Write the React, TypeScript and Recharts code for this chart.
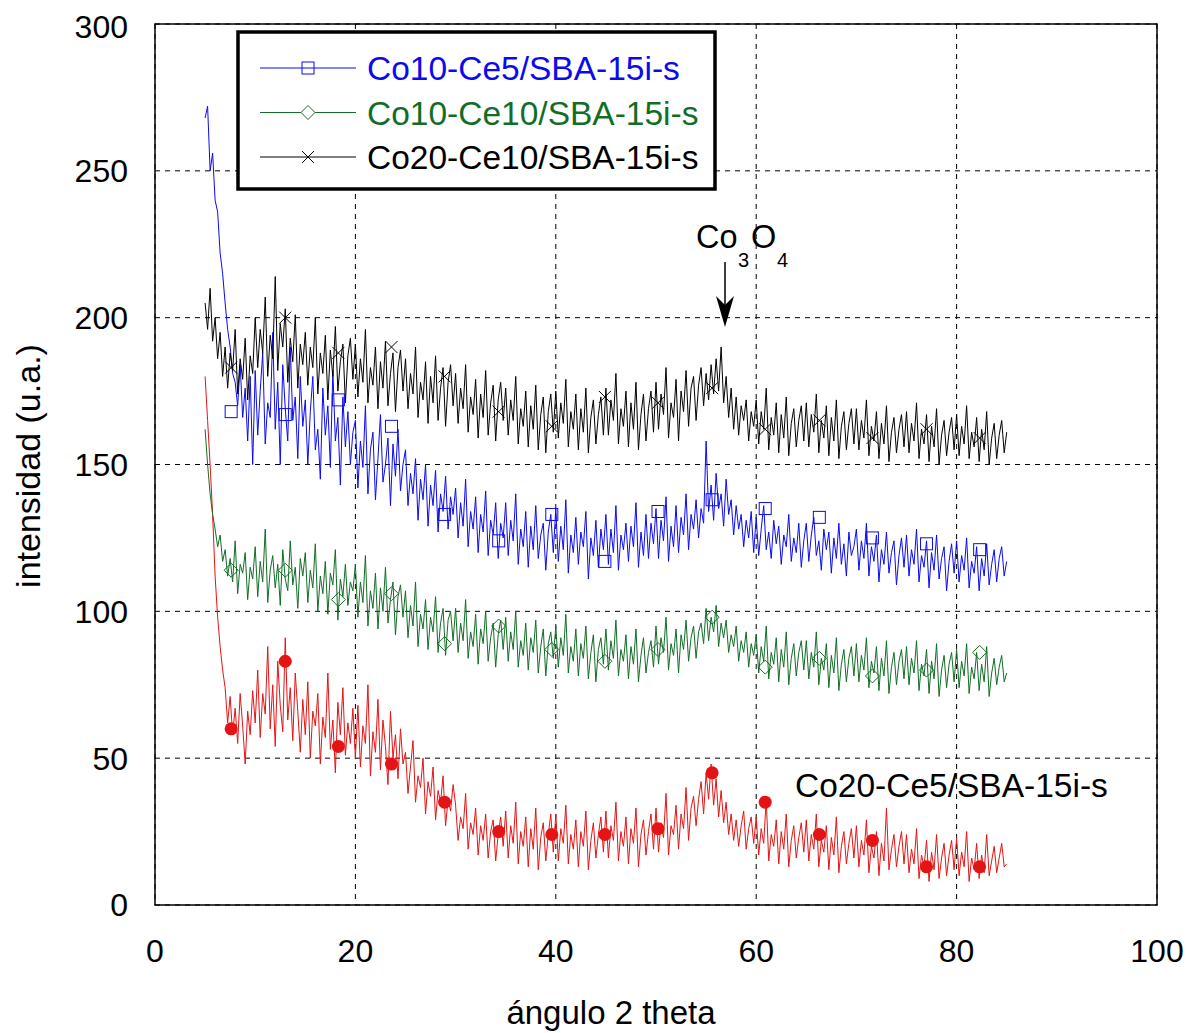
import { ComposedChart, Line, Scatter, XAxis, YAxis, CartesianGrid } from 'recharts'

const FONT = '"Liberation Sans", Arial, Helvetica, sans-serif'

const BLUE = '#0a0af0'
const GREEN = '#126d26'
const BLACK = '#000000'
const RED = '#e41414'

// scan grid: 5 -> 85 deg, 0.25 deg step (one row below = 5 deg)
const X_START = 5
const X_STEP = 0.25

// Co10-Ce5/SBA-15i-s
const blueVals = [
  268, 272, 250, 256, 240, 236, 222, 215, 205, 196, 190, 181, 178, 170, 184, 166, 176, 158, 180, 150,
  182, 160, 175, 188, 157, 171, 166, 195, 162, 178, 150, 184, 169, 158, 190, 165, 173, 152, 180, 163,
  172, 150, 168, 180, 155, 162, 145, 176, 160, 170, 149, 182, 158, 166, 143, 173, 156, 168, 150, 161,
  165, 142, 158, 149, 170, 140, 155, 161, 138, 152, 167, 144, 150, 159, 136, 157, 146, 162, 141, 150,
  155, 136, 147, 140, 152, 131, 145, 138, 150, 129, 143, 136, 148, 127, 140, 134, 146, 128, 139, 133,
  142, 125, 137, 129, 145, 122, 134, 128, 139, 120, 133, 127, 141, 119, 131, 126, 137, 118, 130, 125,
  137, 119, 131, 124, 140, 116, 128, 122, 134, 115, 129, 121, 136, 118, 126, 130, 114, 127, 133, 120,
  135, 117, 129, 121, 138, 113, 126, 120, 132, 116, 127, 122, 134, 111, 125, 119, 131, 115, 128, 121,
  133, 116, 128, 120, 136, 114, 126, 121, 130, 117, 129, 122, 137, 115, 127, 119, 133, 118, 130, 123,
  135, 118, 131, 124, 139, 117, 129, 122, 136, 120, 132, 126, 140, 121, 133, 128, 138, 125, 135, 130,
  158, 134, 143, 131, 147, 135, 140, 129, 145, 133, 138, 126, 136, 128, 133, 122, 131, 125, 134, 120,
  132, 119, 128, 136, 121, 127, 118, 131, 123, 129, 116, 126, 122, 133, 117, 125, 120, 130, 115, 124,
  130, 117, 126, 132, 119, 124, 114, 128, 121, 127, 113, 125, 118, 130, 116, 123, 112, 127, 119, 122,
  128, 114, 124, 118, 130, 112, 122, 117, 126, 110, 121, 116, 127, 113, 120, 124, 109, 119, 125, 115,
  126, 112, 121, 116, 128, 110, 119, 115, 124, 108, 120, 114, 126, 111, 118, 122, 107, 117, 123, 113,
  124, 110, 119, 114, 125, 108, 117, 113, 122, 107, 118, 112, 123, 109, 116, 121, 110, 118, 122, 112,
  117,
]

// Co10-Ce10/SBA-15i-s
const greenVals = [
  162, 150, 140, 133, 128, 122, 126, 117, 121, 112, 118, 110, 124, 106, 116, 113, 120, 104, 115, 111,
  122, 105, 117, 110, 128, 103, 114, 119, 108, 116, 102, 121, 111, 107, 124, 109, 115, 101, 118, 112,
  120, 103, 114, 108, 123, 100, 112, 106, 117, 99, 113, 109, 121, 97, 111, 105, 116, 102, 110, 107,
  116, 98, 110, 103, 119, 95, 107, 101, 113, 94, 108, 100, 115, 96, 104, 110, 92, 105, 109, 98,
  107, 91, 102, 95, 110, 88, 99, 94, 104, 87, 98, 93, 105, 86, 96, 101, 85, 97, 100, 90,
  101, 86, 96, 90, 104, 84, 93, 88, 99, 82, 94, 89, 100, 83, 91, 96, 81, 92, 97, 87,
  98, 83, 93, 87, 100, 81, 90, 85, 96, 80, 91, 86, 97, 79, 88, 94, 78, 89, 93, 84,
  95, 81, 91, 85, 99, 79, 88, 83, 94, 78, 89, 84, 95, 77, 86, 92, 76, 87, 91, 82,
  94, 80, 90, 84, 97, 78, 87, 83, 92, 77, 88, 82, 94, 76, 85, 91, 79, 86, 90, 81,
  95, 82, 91, 86, 98, 80, 89, 85, 94, 79, 92, 87, 97, 83, 91, 95, 84, 93, 96, 89,
  101, 90, 98, 93, 102, 88, 96, 91, 97, 86, 92, 88, 95, 83, 90, 86, 93, 81, 89, 85,
  92, 79, 88, 83, 95, 77, 86, 82, 91, 76, 87, 81, 93, 75, 84, 89, 78, 86, 90, 80,
  90, 77, 86, 81, 93, 75, 84, 80, 89, 74, 85, 79, 91, 73, 82, 87, 76, 84, 88, 78,
  89, 76, 85, 80, 91, 74, 83, 79, 88, 73, 84, 78, 90, 72, 81, 86, 75, 83, 87, 77,
  88, 75, 84, 79, 90, 73, 82, 78, 87, 72, 83, 77, 89, 71, 80, 85, 74, 82, 86, 76,
  87, 74, 83, 78, 89, 72, 81, 77, 86, 73, 82, 76, 88, 71, 79, 84, 75, 81, 85, 76,
  79,
]

// Co20-Ce10/SBA-15i-s
const blackVals = [
  205, 196, 210, 192, 200, 186, 195, 180, 190, 176, 188, 182, 196, 174, 186, 179, 193, 172, 187, 181,
  200, 183, 196, 188, 207, 180, 194, 186, 214, 182, 198, 190, 203, 178, 193, 185, 201, 176, 191, 184,
  195, 177, 190, 183, 200, 174, 188, 181, 194, 172, 189, 180, 197, 175, 185, 191, 171, 187, 193, 179,
  191, 173, 186, 178, 196, 171, 183, 177, 190, 169, 185, 176, 192, 170, 181, 188, 168, 183, 189, 175,
  186, 169, 181, 174, 190, 166, 178, 172, 185, 164, 180, 171, 187, 165, 176, 183, 163, 178, 184, 170,
  181, 164, 176, 169, 184, 161, 173, 167, 179, 159, 174, 166, 182, 160, 171, 177, 158, 172, 178, 165,
  176, 160, 172, 165, 180, 157, 169, 163, 175, 156, 170, 162, 177, 155, 167, 173, 154, 168, 174, 161,
  175, 159, 171, 164, 179, 156, 168, 162, 174, 155, 169, 161, 176, 154, 166, 172, 157, 167, 173, 160,
  176, 160, 172, 165, 181, 157, 169, 163, 175, 156, 171, 162, 178, 155, 167, 174, 158, 169, 175, 161,
  178, 162, 174, 167, 183, 159, 171, 166, 179, 158, 175, 168, 182, 163, 176, 180, 165, 177, 183, 170,
  181, 172, 184, 174, 186, 175, 190, 171, 180, 166, 176, 162, 173, 160, 170, 165, 172, 158, 168, 163,
  172, 157, 168, 162, 176, 155, 166, 160, 171, 154, 167, 159, 173, 153, 164, 169, 156, 165, 170, 158,
  171, 156, 167, 161, 174, 154, 165, 159, 170, 153, 166, 158, 172, 152, 163, 168, 155, 164, 169, 157,
  169, 155, 165, 159, 172, 153, 163, 158, 168, 152, 164, 157, 170, 151, 161, 166, 154, 162, 167, 156,
  168, 154, 164, 158, 171, 152, 162, 157, 167, 151, 163, 156, 169, 150, 160, 165, 153, 161, 166, 155,
  167, 153, 163, 157, 170, 152, 161, 156, 166, 151, 162, 155, 168, 150, 159, 164, 152, 160, 165, 154,
  161,
]

// Co20-Ce5/SBA-15i-s
const redVals = [
  180, 165, 150, 133, 112, 98, 88, 80, 74, 62, 71, 58, 67, 55, 72, 61, 48, 66, 58, 73,
  62, 80, 57, 72, 65, 88, 60, 75, 54, 83, 68, 59, 91, 63, 74, 56, 79, 66, 52, 70,
  58, 76, 50, 66, 61, 72, 48, 64, 57, 79, 53, 63, 45, 69, 58, 74, 51, 62, 55, 67,
  50, 68, 47, 61, 55, 75, 44, 59, 52, 70, 46, 63, 54, 41, 66, 50, 58, 43, 60, 48,
  52, 38, 47, 56, 35, 44, 40, 50, 31, 42, 37, 47, 29, 39, 35, 44, 27, 36, 32, 41,
  34, 22, 30, 26, 38, 19, 28, 24, 33, 17, 27, 22, 31, 16, 25, 29, 15, 24, 30, 20,
  32, 16, 27, 21, 35, 14, 25, 20, 30, 13, 26, 19, 33, 12, 23, 28, 15, 24, 31, 18,
  31, 15, 26, 21, 34, 14, 24, 19, 29, 13, 25, 20, 32, 12, 22, 28, 16, 24, 30, 18,
  32, 16, 27, 22, 35, 15, 25, 20, 30, 14, 26, 21, 33, 13, 24, 29, 17, 25, 31, 19,
  33, 18, 28, 23, 38, 17, 27, 24, 34, 19, 31, 26, 40, 22, 33, 37, 27, 36, 42, 31,
  45, 36, 48, 34, 43, 30, 39, 28, 35, 24, 31, 22, 29, 20, 27, 32, 19, 26, 30, 21,
  30, 17, 26, 21, 36, 15, 24, 20, 29, 14, 25, 19, 31, 13, 22, 27, 16, 23, 28, 18,
  29, 15, 24, 19, 31, 13, 22, 18, 27, 12, 23, 17, 30, 11, 20, 25, 14, 21, 26, 16,
  27, 13, 22, 17, 29, 11, 20, 16, 25, 10, 21, 15, 33, 12, 19, 24, 13, 20, 25, 14,
  24, 11, 19, 14, 26, 9, 17, 13, 22, 8, 18, 12, 24, 9, 16, 21, 10, 17, 22, 12,
  23, 10, 18, 13, 25, 8, 16, 12, 21, 9, 17, 11, 24, 10, 15, 20, 11, 16, 21, 13,
  14,
]

// symbol positions along each trace
const markX = [7.6, 13.0, 18.3, 23.6, 28.9, 34.3, 39.6, 44.9, 50.2, 55.6, 60.9, 66.3, 71.6, 77.0, 82.3]
const blueMarks = [168, 167, 172, 163, 133, 124, 133, 117, 134, 138, 135, 132, 125, 123, 121]
const greenMarks = [114, 114, 104, 106, 89, 95, 87, 83, 87, 98, 81, 84, 78, 80, 86]
const blackMarks = [183, 200, 188, 190, 180, 168, 163, 173, 171, 176, 162, 165, 159, 162, 159]
const redMarks = [60, 83, 54, 48, 35, 25, 24, 24, 26, 45, 35, 24, 22, 13, 13]

const xTicks = [0, 20, 40, 60, 80, 100]
const yTicks = [0, 50, 100, 150, 200, 250, 300]

const rows = blueVals.map((_, i) => ({
  x: X_START + i * X_STEP,
  blue: blueVals[i],
  green: greenVals[i],
  black: blackVals[i],
  red: redVals[i],
}))

const marks = (ys: number[]) => markX.map((x, i) => ({ x, y: ys[i] }))

const SquareMark = (p: any) => (
  <rect x={p.cx - 6} y={p.cy - 6} width={12} height={12} fill="none" stroke={BLUE} strokeWidth={1} />
)
const DiamondMark = (p: any) => (
  <path d={`M${p.cx},${p.cy - 7}L${p.cx + 7},${p.cy}L${p.cx},${p.cy + 7}L${p.cx - 7},${p.cy}Z`} fill="none" stroke={GREEN} strokeWidth={1} />
)
const CrossMark = (p: any) => (
  <path d={`M${p.cx - 6},${p.cy - 6}L${p.cx + 6},${p.cy + 6}M${p.cx + 6},${p.cy - 6}L${p.cx - 6},${p.cy + 6}`} stroke={BLACK} strokeWidth={1} />
)
const DotMark = (p: any) => <circle cx={p.cx} cy={p.cy} r={6.5} fill={RED} />

const legendItems = [
  { name: 'Co10-Ce5/SBA-15i-s', color: BLUE, mark: 'square' },
  { name: 'Co10-Ce10/SBA-15i-s', color: GREEN, mark: 'diamond' },
  { name: 'Co20-Ce10/SBA-15i-s', color: BLACK, mark: 'cross' },
]

function Overlay() {
  // page coordinates (the svg is shifted back over the body margin)
  return (
    <svg
      width={1200}
      height={1033}
      style={{ position: 'absolute', left: -8, top: -8, pointerEvents: 'none' }}
      fontFamily={FONT}
    >
      <rect x={155} y={24} width={1002} height={881} fill="none" stroke="#000" strokeWidth={1.5} />

      <rect x={238} y={32} width={477} height={157} fill="#fff" stroke="#000" strokeWidth={3.5} />
      {legendItems.map((it, i) => {
        const y = 68 + i * 44.5
        const cx = 308
        return (
          <g key={it.name}>
            <line x1={260} x2={356} y1={y} y2={y} stroke={it.color} strokeWidth={1} />
            {it.mark === 'square' && (
              <rect x={cx - 6} y={y - 6} width={12} height={12} fill="none" stroke={it.color} strokeWidth={1} />
            )}
            {it.mark === 'diamond' && (
              <path d={`M${cx},${y - 7}L${cx + 7},${y}L${cx},${y + 7}L${cx - 7},${y}Z`} fill="#fff" stroke={it.color} strokeWidth={1} />
            )}
            {it.mark === 'cross' && (
              <path d={`M${cx - 6},${y - 6}L${cx + 6},${y + 6}M${cx + 6},${y - 6}L${cx - 6},${y + 6}`} stroke={it.color} strokeWidth={1} />
            )}
            <text x={367} y={y + 12} fontSize={33.5} fill={it.color}>
              {it.name}
            </text>
          </g>
        )
      })}

      <text x={696} y={248} fontSize={32.5} fill="#000">Co</text>
      <text x={738} y={267} fontSize={20} fill="#000">3</text>
      <text x={751} y={248} fontSize={32.5} fill="#000">O</text>
      <text x={777} y={267} fontSize={20} fill="#000">4</text>
      <line x1={725} x2={725} y1={262} y2={310} stroke="#000" strokeWidth={1.5} />
      <path d="M725,327L716,296L725,305L734,296Z" fill="#000" />

      <text x={795} y={797} fontSize={33.5} fill="#000">Co20-Ce5/SBA-15i-s</text>

      <text x={611} y={1024} fontSize={33} textAnchor="middle" fill="#000">ángulo 2 theta</text>
      <text
        x={0}
        y={0}
        fontSize={34}
        textAnchor="middle"
        fill="#000"
        transform="translate(40,466) rotate(-90)"
      >
        intensidad (u.a.)
      </text>
    </svg>
  )
}

export default function App() {
  const tickStyle = { fontSize: 32, fill: '#000', fontFamily: FONT }
  return (
    <div style={{ position: 'relative', width: 1192, height: 1025 }}>
      <ComposedChart
        width={1192}
        height={1025}
        data={rows}
        margin={{ top: 16, right: 43, bottom: 0, left: 0 }}
      >
        <CartesianGrid stroke="#000" strokeWidth={1} strokeDasharray="5 5" />
        <XAxis
          type="number"
          dataKey="x"
          domain={[0, 100]}
          ticks={xTicks}
          tickLine={false}
          axisLine={false}
          tickSize={0}
          tickMargin={34}
          height={128}
          tick={tickStyle}
          allowDataOverflow
        />
        <YAxis
          type="number"
          domain={[0, 300]}
          ticks={yTicks}
          tickLine={false}
          axisLine={false}
          tickSize={0}
          tickMargin={27}
          width={147}
          tick={tickStyle}
          allowDataOverflow
        />
        <Line dataKey="red" stroke={RED} strokeWidth={1} dot={false} isAnimationActive={false} />
        <Line dataKey="blue" stroke={BLUE} strokeWidth={1} dot={false} isAnimationActive={false} />
        <Line dataKey="green" stroke={GREEN} strokeWidth={1} dot={false} isAnimationActive={false} />
        <Line dataKey="black" stroke={BLACK} strokeWidth={1} dot={false} isAnimationActive={false} />
        <Scatter data={marks(redMarks)} dataKey="y" shape={DotMark} isAnimationActive={false} />
        <Scatter data={marks(blueMarks)} dataKey="y" shape={SquareMark} isAnimationActive={false} />
        <Scatter data={marks(greenMarks)} dataKey="y" shape={DiamondMark} isAnimationActive={false} />
        <Scatter data={marks(blackMarks)} dataKey="y" shape={CrossMark} isAnimationActive={false} />
      </ComposedChart>
      <Overlay />
    </div>
  )
}
